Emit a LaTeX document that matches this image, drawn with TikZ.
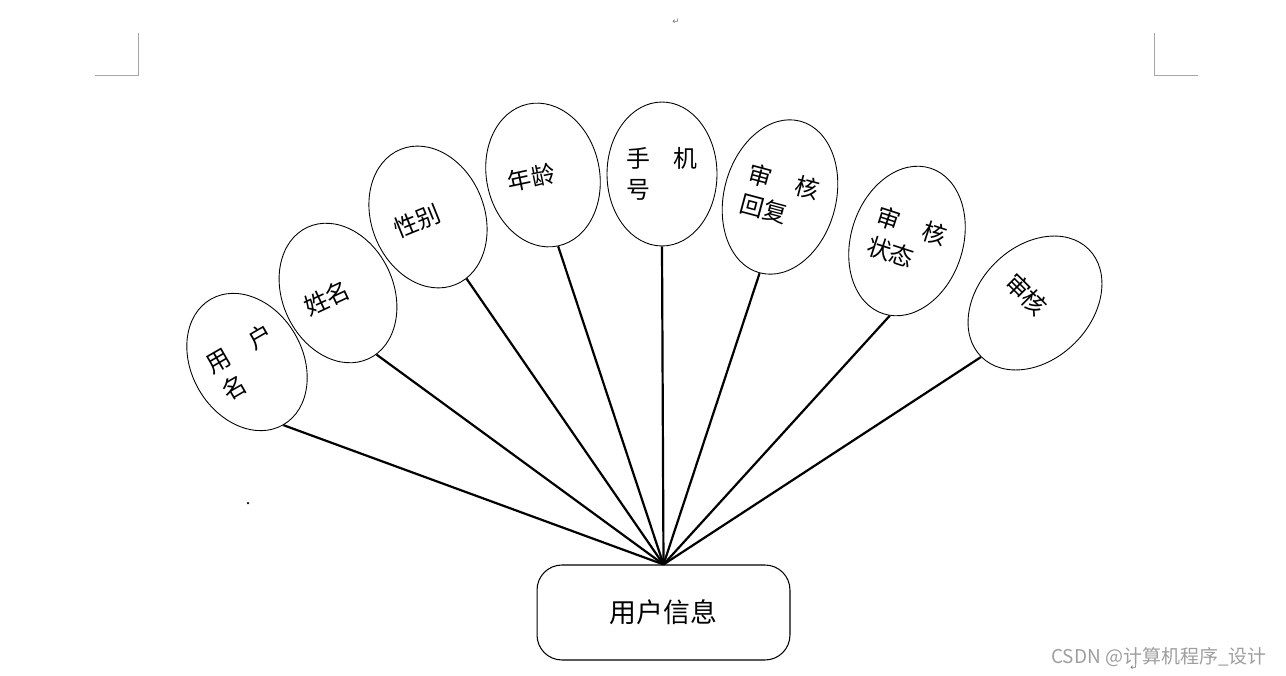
\documentclass[tikz,border=0pt]{standalone}
\usepackage{fontspec}
\setmainfont{Noto Sans CJK SC}
\newfontfamily\symfont{DejaVu Sans}
\usetikzlibrary{shapes.geometric}

\begin{document}
\begin{tikzpicture}[x=0.02cm,y=-0.02cm,
    attr/.style={ellipse,draw,line width=0.5pt,minimum width=2.22cm,minimum height=2.9cm,
      text width=1.44cm,align=left,inner sep=0pt,font=\fontsize{13.6}{17.6}\selectfont},
    link/.style={line width=1.25pt},
    pagecorner/.style={draw=black!35,line width=0.5pt}]
	  \useasboundingbox (0,0) rectangle (1286,676);
	  % page corners
	  \draw[pagecorner] (95,75) -- (138,75) -- (138,33);
	  \draw[pagecorner] (1198,75) -- (1154,75) -- (1154,33);
	  \node[text=black!55,font=\symfont\fontsize{5}{6}\selectfont] (ret1) at (676,22) {↵};
	  \fill (248,503) circle (0.025cm);
	  % entity
	  \node[draw,line width=0.6pt,rounded corners=0.5cm,minimum width=5.06cm,minimum height=1.9cm,
	    font=\fontsize{15.3}{18}\selectfont] (r) at (663.5,612.5) {用户信息};
	  % attributes
	  \node[attr,rotate=30] (e1) at (247,362) {用\quad 户\\名};
	  \node[attr,rotate=25] (e2) at (338,293) {姓名};
	  \node[attr,rotate=22,minimum width=2.26cm,minimum height=2.92cm] (e3) at (428,217) {性别};
	  \node[attr,rotate=12,minimum width=2.26cm] (e4) at (543,175) {年龄};
	  \node[attr,minimum width=2.2cm,minimum height=2.88cm] (e5) at (662,174) {手\quad 机\\号};
	  \node[attr,rotate=-15,minimum width=2.24cm,minimum height=3.14cm] (e6) at (780,197) {审\quad 核\\回复};
	  \node[attr,rotate=-18,minimum width=2.24cm,minimum height=3.06cm] (e7) at (907,241) {审\quad 核\\状态};
	  \node[attr,rotate=-45,minimum width=2.26cm,minimum height=3.04cm] (e8) at (1035,303) {审核};
	  \draw[link] (e1.south) -- (r.north);
	  \draw[link] (e2.-83) -- (r.north);
	  \draw[link] (e3.-80) -- (r.north);
	  \draw[link] (e4.south) -- (r.north);
	  \draw[link] (e5.south) -- (r.north);
	  \draw[link] (e6.south) -- (r.north);
	  \draw[link] (e7.-85) -- (r.north);
	  \draw[link] (e8.south) -- (r.north);
	  % watermark
	  \node[text=black!38,font=\fontsize{10.8}{12}\selectfont] (wm) at (1159,657) {CSDN @计算机程序\_设计};
	  \node[text=black!55,font=\symfont\fontsize{5}{6}\selectfont] (ret2) at (1134,668) {↵};
	\end{tikzpicture}
\end{document}
